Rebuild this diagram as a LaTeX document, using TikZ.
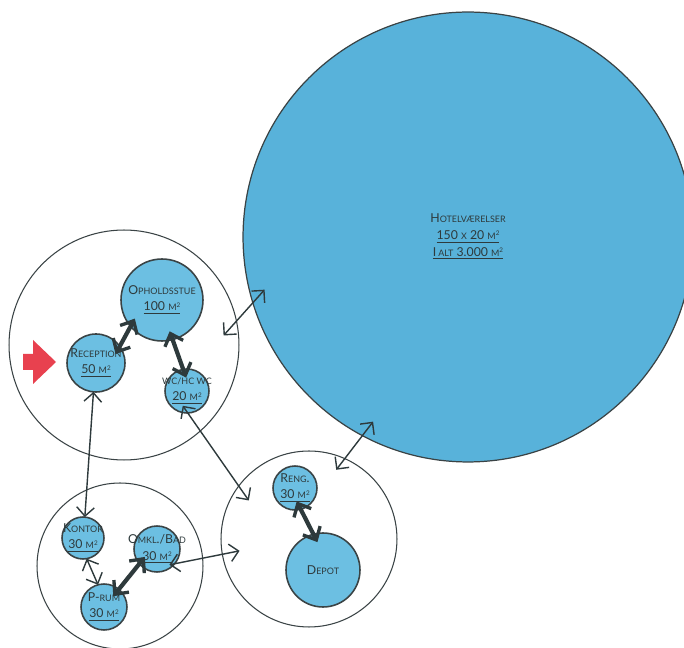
\documentclass[tikz,border=0pt]{standalone}
\usepackage{fontspec}
\setmainfont{Lato}
\usetikzlibrary{arrows.meta}

\definecolor{hotelblue}{HTML}{58B2DA}
\definecolor{roomblue}{HTML}{6CBFE2}
\definecolor{edgegray}{HTML}{3A4345}
\definecolor{inkgray}{HTML}{2E3A3C}
\definecolor{entryred}{HTML}{E8414F}

\newcommand{\smc}[1]{{\fontsize{5.1}{6}\selectfont #1}}
\newcommand{\msq}{\smc{M}\raisebox{0.6ex}{\fontsize{3.6}{4}\selectfont 2}}

\tikzset{
  zone/.style={circle, draw=edgegray, line width=0.6pt, fill=white, inner sep=0pt, outer sep=0pt},
  room/.style={circle, draw=edgegray, line width=0.9pt, fill=roomblue, inner sep=0pt, outer sep=0pt},
  txt/.style={inner sep=0pt, align=center, text=inkgray, font=\fontsize{7}{9.5}\selectfont},
  link/.style={{Straight Barb[length=5pt,width=10pt]}-{Straight Barb[length=5pt,width=10pt]}, line width=0.8pt, draw=inkgray},
  flow/.style={{Straight Barb[length=6pt,width=11pt,line width=1.9pt]}-{Straight Barb[length=6pt,width=11pt,line width=1.9pt]}, line width=2.4pt, draw=inkgray, shorten <=-5pt, shorten >=-5pt},
}

\begin{document}
\begin{tikzpicture}[x=0.02cm, y=-0.02cm]
\useasboundingbox (0,0) rectangle (684,648);

\node[zone, minimum size=4.6cm] (grpA) at (124,345) {};
\node[zone, minimum size=3.32cm] (grpB) at (120,566) {};
\node[zone, minimum size=3.52cm] (grpC) at (309,539) {};
\node[room, fill=hotelblue, line width=0.7pt, minimum size=9cm,
  label={[txt]center:H\smc{OTELVÆRELSER}\\\underline{150 \smc{X} 20 \msq}\\\underline{I\,\smc{ALT} 3.000 \msq}}] (hotel) at (468,237) {};

\node[room, minimum size=1.64cm, label={[txt]center:O\smc{PHOLDSSTUE}\\\underline{100 \msq}}] (ophold) at (162,300) {};
\node[room, minimum size=1.16cm, label={[txt]center:R\smc{ECEPTION}\\\underline{50 \msq}}] (recep) at (96,363) {};
\node[room, minimum size=0.88cm, label={[txt]center:\smc{WC/HC WC}\\\underline{20 \msq}}] (wc) at (187,391) {};
\node[room, minimum size=0.84cm, label={[txt]center:K\smc{ONTOR}\\\underline{30 \msq}}] (kontor) at (83,538) {};
\node[room, minimum size=0.92cm, label={[txt]center:O\smc{MKL}./B\smc{AD}\\\underline{30 \msq}}] (omkl) at (157,549) {};
\node[room, minimum size=0.92cm, label={[txt]center:P-\smc{RUM}\\\underline{30 \msq}}] (prum) at (104,607) {};
\node[room, minimum size=0.88cm, label={[txt]center:R\smc{ENG}.\\\underline{30 \msq}}] (reng) at (295,488) {};
\node[room, minimum size=1.48cm, label={[txt]center:D\smc{EPOT}}] (depot) at (323,570) {};

\fill[entryred] (23,354) -- (33,354) -- (33,340) -- (56,362) -- (33,384) -- (33,370) -- (23,370) -- cycle;

\draw[link, shorten <=-11pt, shorten >=-10pt] (grpA.12) -- (hotel.197);
\draw[link] (recep.-95) -- (kontor.85);
\draw[link] (kontor.-80) -- (prum.105);
\draw[link, shorten <=-5pt, shorten >=-10pt] (wc.-88) -- (grpC.143);
\draw[link, shorten <=-10pt, shorten >=-8pt] (hotel.-118) -- (grpC.66);
\draw[link, shorten <=-3pt, shorten >=-10pt] (omkl.-40) -- (grpC.190);

\draw[flow] (recep.35) -- (ophold.220);
\draw[flow] (ophold.-75) -- (wc.100);
\draw[flow] (prum.50) -- (omkl.220);
\draw[flow] (reng.-75) -- (depot.105);
\end{tikzpicture}
\end{document}
